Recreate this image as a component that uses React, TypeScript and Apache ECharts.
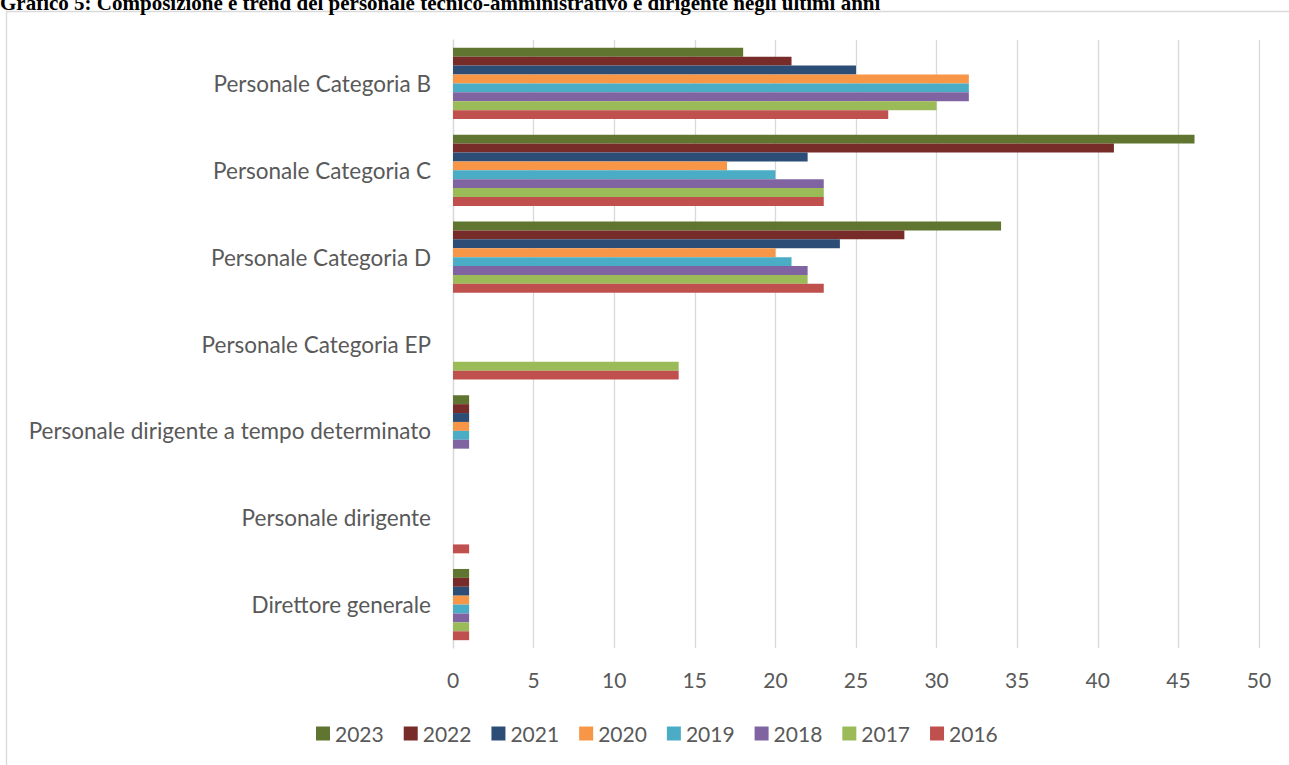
import React, { useEffect, useRef } from "react";
import * as echarts from "echarts";

const categories = [
  "Personale Categoria B",
  "Personale Categoria C",
  "Personale Categoria D",
  "Personale Categoria EP",
  "Personale dirigente a tempo determinato",
  "Personale dirigente",
  "Direttore generale",
];

const years = ["2023", "2022", "2021", "2020", "2019", "2018", "2017", "2016"];

const v2023 = [18, 46, 34, 0, 1, 0, 1];
const v2022 = [21, 41, 28, 0, 1, 0, 1];
const v2021 = [25, 22, 24, 0, 1, 0, 1];
const v2020 = [32, 17, 20, 0, 1, 0, 1];
const v2019 = [32, 20, 21, 0, 1, 0, 1];
const v2018 = [32, 23, 22, 0, 1, 0, 1];
const v2017 = [30, 23, 22, 14, 0, 0, 1];
const v2016 = [27, 23, 23, 14, 0, 1, 1];

const seriesValues = [v2023, v2022, v2021, v2020, v2019, v2018, v2017, v2016];
const colors = ["#5F7530", "#772C2A", "#2C4D75", "#F79646", "#4BACC6", "#8064A2", "#9BBB59", "#C0504D"];

const xTicks = { min: 0, max: 50, interval: 5 };

const titleText =
  "Grafico 5: Composizione e trend del personale tecnico-amministrativo e dirigente negli ultimi anni";

export default function App() {
  const ref = useRef<HTMLDivElement>(null);
  useEffect(() => {
    if (!ref.current) return;
    const chart = echarts.init(ref.current, undefined, { renderer: "svg" });
    const font = "Lato, Carlito, Calibri, sans-serif";
    chart.setOption({
      animation: false,
      color: colors,
      graphic: [
        {
          type: "rect",
          shape: { x: 6.5, y: 11.5, width: 1300, height: 800 },
          style: { fill: "none", stroke: "#d9d9d9", lineWidth: 1.3 },
          silent: true,
        },
        {
          type: "text",
          left: 0,
          top: -8,
          style: {
            text: titleText,
            font: "bold 21px 'Liberation Serif', 'Times New Roman', serif",
            fill: "#000",
          },
        },
      ],
      grid: { left: 453, right: 30, top: 40, bottom: 117, containLabel: false },
      legend: {
        data: years,
        bottom: 16,
        left: 311,
        itemWidth: 14,
        itemHeight: 14,
        itemGap: 20,
        icon: "rect",
        textStyle: { fontFamily: font, fontSize: 21, color: "#595959" },
      },
      xAxis: {
        type: "value",
        min: xTicks.min,
        max: xTicks.max,
        interval: xTicks.interval,
        axisLine: { show: false },
        axisTick: { show: false },
        splitLine: { show: true, lineStyle: { color: "#d9d9d9", width: 1.3 } },
        axisLabel: { fontFamily: font, fontSize: 21, color: "#595959", margin: 21 },
      },
      yAxis: {
        type: "category",
        data: categories,
        inverse: true,
        axisLine: { show: true, lineStyle: { color: "#d9d9d9", width: 1.3 } },
        axisTick: { show: false },
        axisLabel: { fontFamily: font, fontSize: 22.5, color: "#595959", margin: 22 },
      },
      series: years.map((y, i) => ({
        name: y,
        type: "bar",
        data: seriesValues[i],
        barGap: "0%",
        barCategoryGap: "18%",
        itemStyle: { color: colors[i] },
      })),
    });
    return () => chart.dispose();
  }, []);
  return (
    <div
      ref={ref}
      style={{ position: "fixed", left: 0, top: 0, width: 1289, height: 765, background: "#fff" }}
    />
  );
}
